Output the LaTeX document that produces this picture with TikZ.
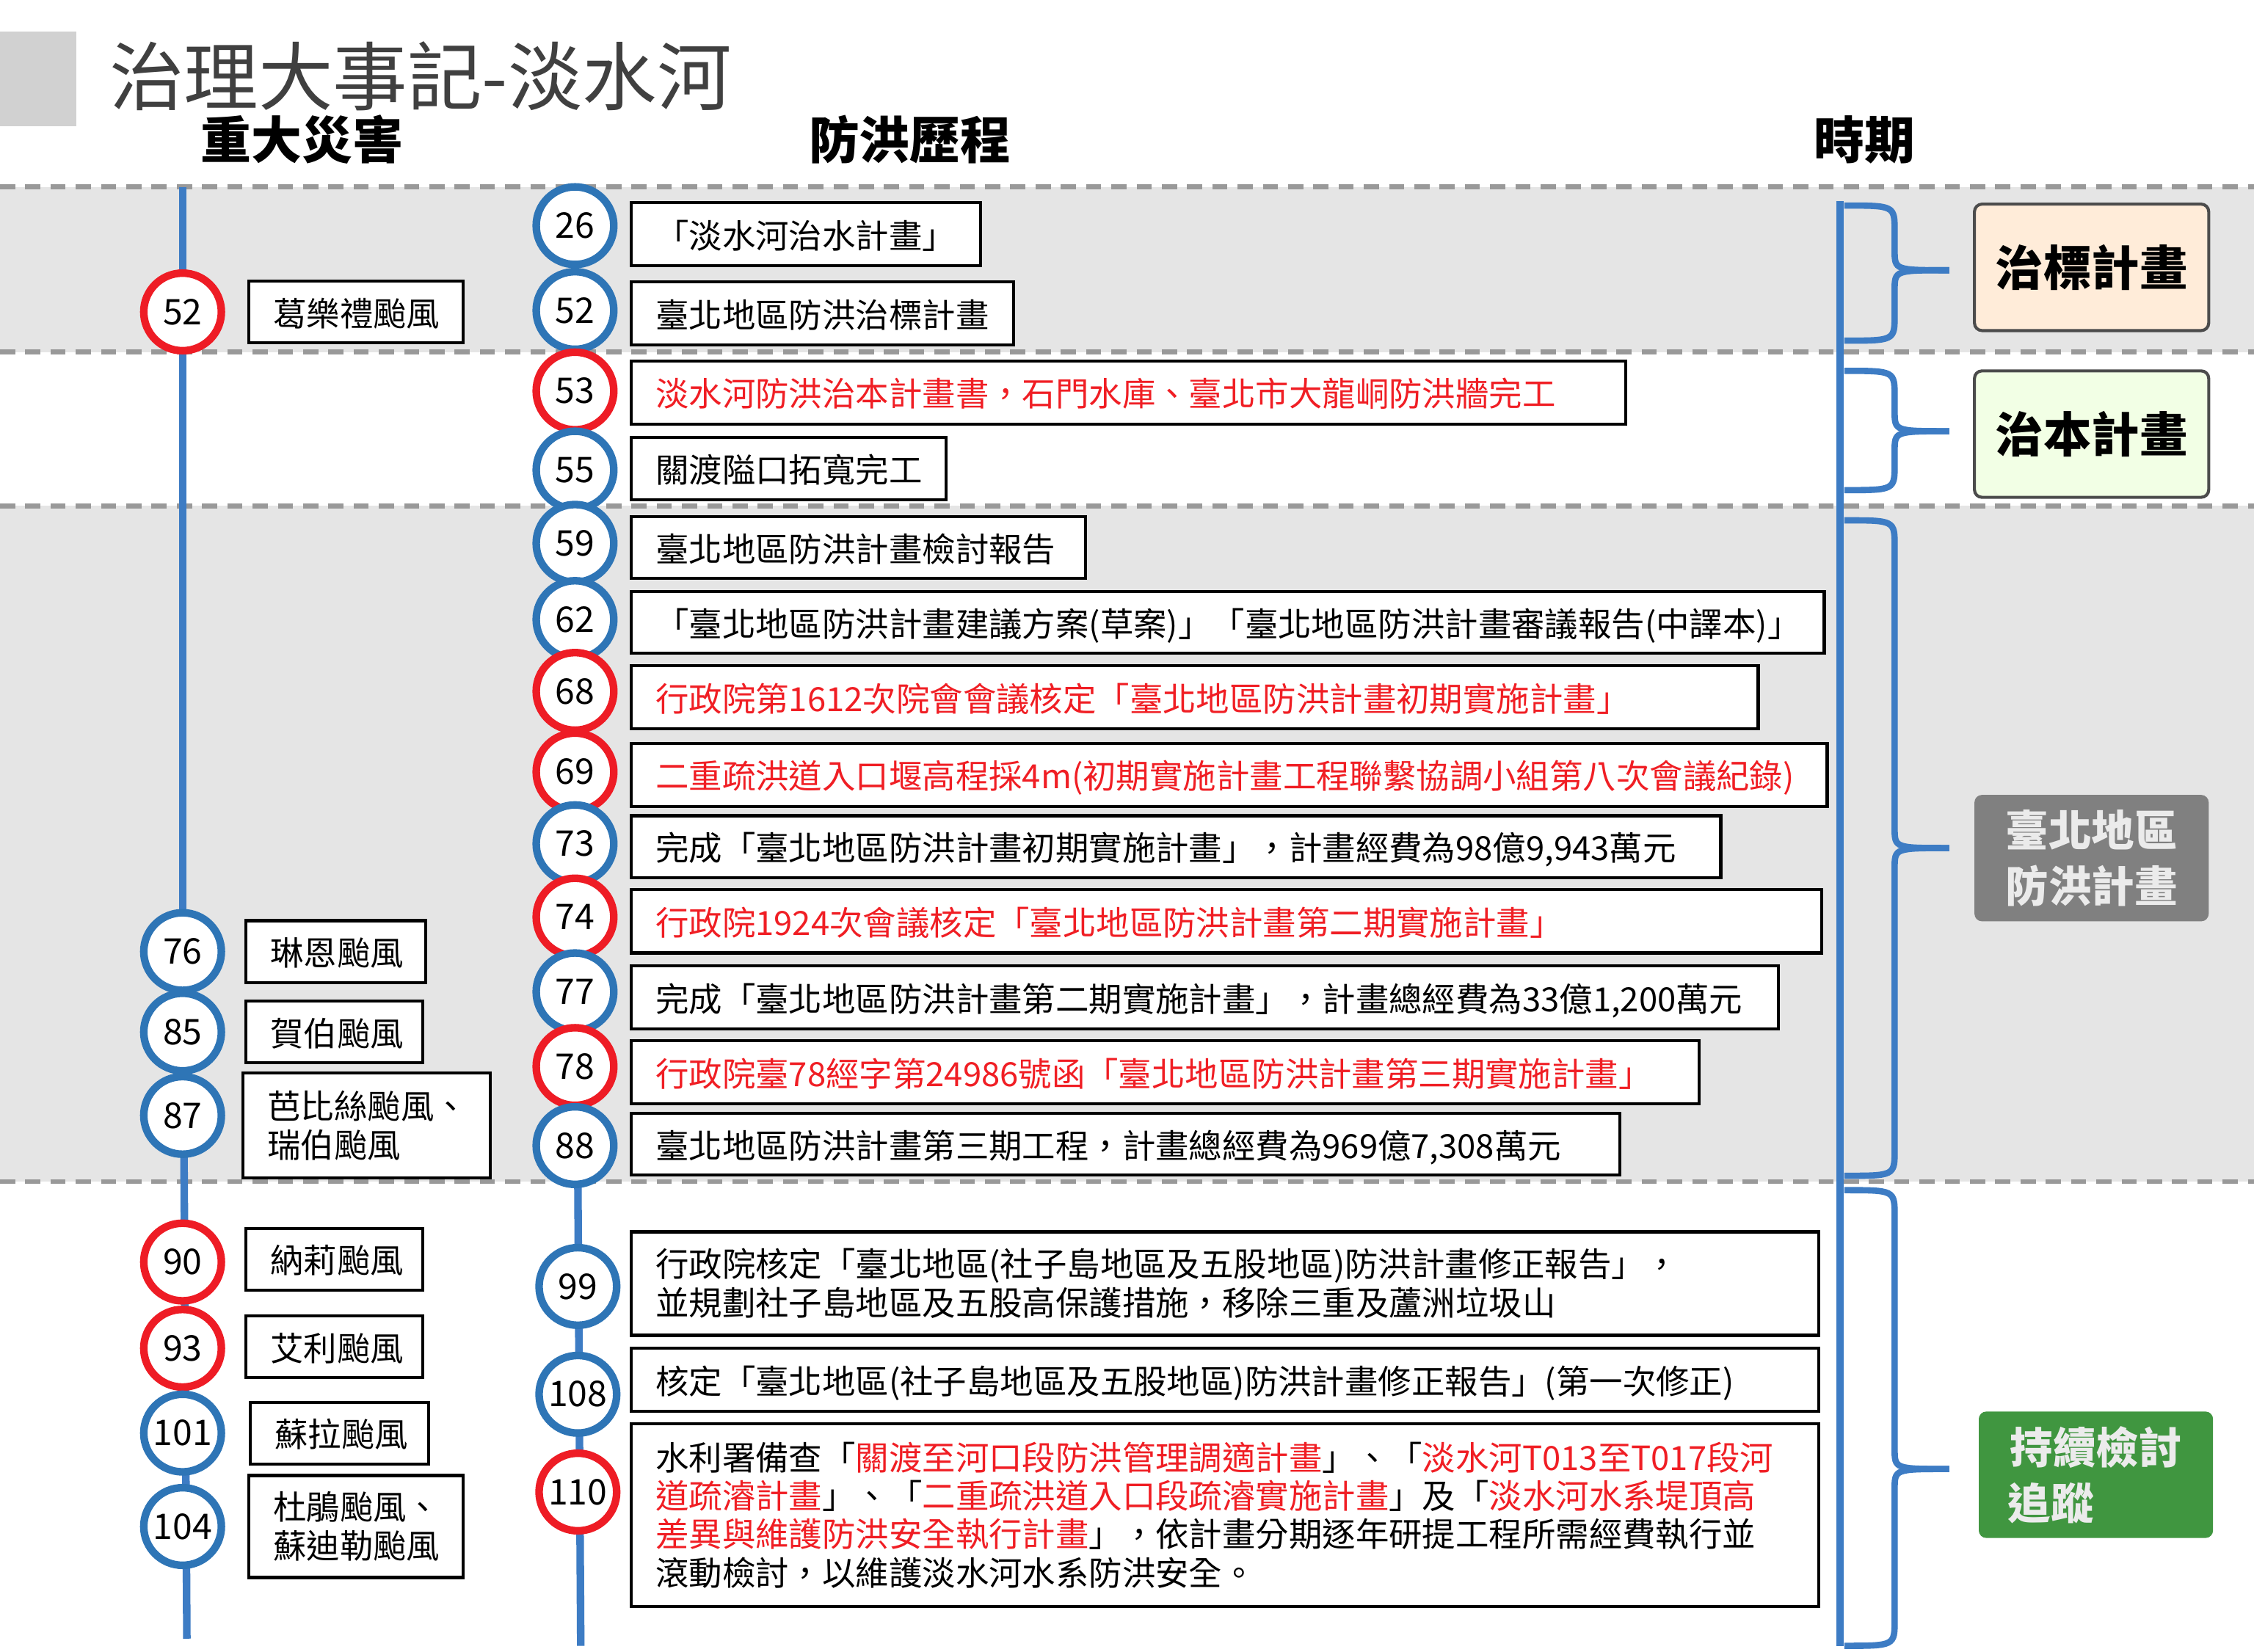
\documentclass[tikz,border=0pt]{standalone}
\usepackage{fontspec}
\setmainfont{Noto Sans CJK TC}
\begin{document}
\begin{tikzpicture}[x=0.02cm,y=-0.02cm,
  sep/.style={draw=black!40,line width=2pt,dash pattern=on 6pt off 4pt},
  axis/.style={draw=axblue,line width=3pt},
  circ/.style={circle,draw,fill=white,line width=3pt,minimum size=1.08cm,inner sep=0pt,font=\fontsize{14}{16}\selectfont},
  bc/.style={circ,draw=cblue},
  rc/.style={circ,draw=cred},
  evm/.style={draw=black,line width=1.2pt,fill=white,anchor=west,align=left,inner xsep=0.34cm,font=\fontsize{13.2}{17}\selectfont},
  evbox/.style={evm,text depth=0pt},
  lbox/.style={evbox},
  ew/.code={\pgfmathsetmacro\tw{(#1-34)*0.02}\edef\next{\noexpand\tikzset{minimum width=#1*0.02cm,text width=\tw cm}}\next},
  brace/.style={draw=axblue,line width=2.5pt},
  per/.style={draw=black!70,line width=1.2pt,rounded corners=3pt,minimum width=3.26cm,minimum height=1.76cm,font=\bfseries\fontsize{19}{26}\selectfont,align=center},
  hdr/.style={font=\bfseries\fontsize{20}{24}\selectfont}]
\definecolor{axblue}{HTML}{3D7CC4}
\definecolor{cblue}{HTML}{2E75B6}
\definecolor{cred}{HTML}{EE1C25}
\definecolor{tred}{HTML}{F01E24}
\useasboundingbox (0,0) rectangle (1568,1149);
\fill[white] (0,0) rectangle (1568,1149);
\fill[black!10] (0,130) rectangle (1568,245);
\fill[black!10] (0,352) rectangle (1568,822);
\foreach \yy in {130,245,352,822} \draw[sep] (0,\yy) -- (1568,\yy);
\fill[black!18] (0,22) rectangle (53,88);
\node[anchor=west,text=black!75,font=\fontsize{29.5}{32}\selectfont] (title) at (70,53) {治理大事記-淡水河};
\node[hdr] (h1) at (210,97) {重大災害};
\node[hdr] (h2) at (633,97) {防洪歷程};
\node[hdr] (h3) at (1297,97) {時期};
\draw[axis] (127,130) -- (127,635);
\draw[axis] (127,635) -- (130,1140);
\draw[axis] (400,130) -- (400,770);
\draw[axis] (402,822) -- (404,1145);
\draw[axis] (1280,140) -- (1280,1145);
% left disasters
\node[rc] (l52) at (127,217) {52};
\node[bc] (l76) at (127,662) {76};
\node[bc] (l85) at (127,718) {85};
\node[bc] (l87) at (127,776) {87};
\node[rc] (l90) at (127,878) {90};
\node[rc] (l93) at (127,938) {93};
\node[bc] (l101) at (127,997) {101};
\node[bc] (l104) at (127,1062) {104};
\node[lbox,ew=149,minimum height=43*0.02cm] (d52) at (172,217) {葛樂禮颱風};
\node[lbox,ew=125,minimum height=43*0.02cm] (d76) at (170,662) {琳恩颱風};
\node[lbox,ew=123,minimum height=43*0.02cm] (d85) at (170,718) {賀伯颱風};
\node[evm,ew=172,minimum height=73*0.02cm,font=\fontsize{13.2}{15.5}\selectfont] (d87) at (168,783) {芭比絲颱風、\\瑞伯颱風};
\node[lbox,ew=123,minimum height=43*0.02cm] (d90) at (170,876) {納莉颱風};
\node[lbox,ew=123,minimum height=43*0.02cm] (d93) at (170,937) {艾利颱風};
\node[lbox,ew=124,minimum height=43*0.02cm] (d101) at (173,997) {蘇拉颱風};
\node[evm,ew=149,minimum height=71*0.02cm,font=\fontsize{13.2}{15.5}\selectfont] (d104) at (172,1062) {杜鵑颱風、\\蘇迪勒颱風};
% middle events
\node[bc] (m26) at (400,157) {26};
\node[bc] (m52) at (400,216) {52};
\node[rc] (m53) at (400,272) {53};
\node[bc] (m55) at (400,327) {55};
\node[bc] (m59) at (400,378) {59};
\node[bc] (m62) at (400,431) {62};
\node[rc] (m68) at (400,481) {68};
\node[rc] (m69) at (400,537) {69};
\node[bc] (m73) at (400,587) {73};
\node[rc] (m74) at (400,638) {74};
\node[bc] (m77) at (400,690) {77};
\node[rc] (m78) at (400,742) {78};
\node[bc] (m88) at (400,797) {88};
\node[bc] (m99) at (402,895) {99};
\node[bc] (m108) at (402,970) {108};
\node[rc] (m110) at (402,1038) {110};
\node[evbox,ew=243,minimum height=44*0.02cm] (e26) at (438,163) {「淡水河治水計畫」};
\node[evbox,ew=266,minimum height=44*0.02cm] (e52) at (438,218) {臺北地區防洪治標計畫};
\node[evbox,ew=692,minimum height=44*0.02cm,text=tred] (e53) at (438,273) {淡水河防洪治本計畫書，石門水庫、臺北市大龍峒防洪牆完工};
\node[evbox,ew=219,minimum height=43*0.02cm] (e55) at (438,326) {關渡隘口拓寬完工};
\node[evbox,ew=316,minimum height=43*0.02cm] (e59) at (438,381) {臺北地區防洪計畫檢討報告};
\node[evbox,ew=830,minimum height=43*0.02cm] (e62) at (438,433) {「臺北地區防洪計畫建議方案(草案)」「臺北地區防洪計畫審議報告(中譯本)」};
\node[evbox,ew=784,minimum height=44*0.02cm,text=tred] (e68) at (438,485) {行政院第1612次院會會議核定「臺北地區防洪計畫初期實施計畫」};
\node[evbox,ew=832,minimum height=44*0.02cm,text=tred,inner xsep=0.28cm] (e69) at (438,539) {二重疏洪道入口堰高程採4m(初期實施計畫工程聯繫協調小組第八次會議紀錄)};
\node[evbox,ew=758,minimum height=43*0.02cm] (e73) at (438,589) {完成「臺北地區防洪計畫初期實施計畫」，計畫經費為98億9,943萬元};
\node[evbox,ew=828,minimum height=44*0.02cm,text=tred] (e74) at (438,641) {行政院1924次會議核定「臺北地區防洪計畫第二期實施計畫」};
\node[evbox,ew=798,minimum height=44*0.02cm] (e77) at (438,694) {完成「臺北地區防洪計畫第二期實施計畫」，計畫總經費為33億1,200萬元};
\node[evbox,ew=743,minimum height=44*0.02cm,text=tred] (e78) at (438,746) {行政院臺78經字第24986號函「臺北地區防洪計畫第三期實施計畫」};
\node[evbox,ew=688,minimum height=43*0.02cm] (e88) at (438,796) {臺北地區防洪計畫第三期工程，計畫總經費為969億7,308萬元};
\node[evm,ew=826,minimum height=72*0.02cm,font=\fontsize{13.2}{15.5}\selectfont,inner xsep=0.2cm] (e99) at (438,893) {行政院核定「臺北地區(社子島地區及五股地區)防洪計畫修正報告」，\\並規劃社子島地區及五股高保護措施，移除三重及蘆洲垃圾山};
\node[evbox,ew=826,minimum height=44*0.02cm,inner xsep=0.2cm] (e108) at (438,960) {核定「臺北地區(社子島地區及五股地區)防洪計畫修正報告」(第一次修正)};
\node[evm,ew=826,minimum height=127*0.02cm,font=\fontsize{13.2}{15.2}\selectfont,inner xsep=0.3cm] (e110) at (438,1054) {水利署備查「\textcolor{tred}{關渡至河口段防洪管理調適計畫}」、「\textcolor{tred}{淡水河T013至T017段河}\\\textcolor{tred}{道疏濬計畫}」、「\textcolor{tred}{二重疏洪道入口段疏濬實施計畫}」及「\textcolor{tred}{淡水河水系堤頂高}\\\textcolor{tred}{差異與維護防洪安全執行計畫}」，依計畫分期逐年研提工程所需經費執行並\\滾動檢討，以維護淡水河水系防洪安全。};
% braces
\foreach \ya/\ym/\yb in {143/188/237,258/300/341,362/590/818,828/1022/1145}{
  \draw[brace] (1283,\ya) .. controls (1318,\ya) .. (1318,\ya+18) -- (1318,\ym-14) .. controls (1318,\ym) .. (1356,\ym);
  \draw[brace] (1356,\ym) .. controls (1318,\ym) .. (1318,\ym+14) -- (1318,\yb-18) .. controls (1318,\yb) .. (1283,\yb);
}
\node[per,fill=orange!15] (p1) at (1455,186) {治標計畫};
\node[per,fill=green!50!yellow!10] (p2) at (1455,302) {治本計畫};
\node[per,fill=black!50,draw=none,font=\bfseries\fontsize{17}{22}\selectfont,text=black!8] (p3) at (1455,597) {臺北地區\\防洪計畫};
\node[per,fill=green!45!black!75,draw=none,text=black!8,font=\bfseries\fontsize{17}{22}\selectfont] (p4) at (1458,1026) {持續檢討\\追蹤\hspace*{2.1em}};
\end{tikzpicture}
\end{document}
